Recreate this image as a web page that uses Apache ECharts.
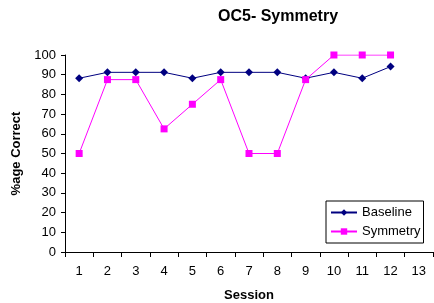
<!DOCTYPE html>
<html>
<head>
<meta charset="utf-8">
<script src="https://cdn.jsdelivr.net/npm/echarts@6/dist/echarts.min.js"></script>
<style>
  html, body { margin: 0; padding: 0; background: #fff; }
  #chart { width: 434px; height: 303px; }
</style>
</head>
<body>
<div id="chart"></div>
<script>
// data
const sessions = ['1', '2', '3', '4', '5', '6', '7', '8', '9', '10', '11', '12', '13'];
const baseline = [88.2, 91.2, 91.2, 91.2, 88.2, 91.2, 91.2, 91.2, 88.2, 91.2, 88.2, 94.1];
const symmetry = [50, 87.5, 87.5, 62.5, 75, 87.5, 50, 50, 87.5, 100, 100, 100];

const font = 'Liberation Sans, Arial, sans-serif';

const chart = echarts.init(document.getElementById('chart'));
chart.setOption({
  animation: false,
  backgroundColor: '#fff',
  title: {
    text: 'OC5- Symmetry',
    left: 273,
    top: 4,
    textAlign: 'center',
    textStyle: { fontFamily: font, fontSize: 16, fontWeight: 'bold', color: '#000' }
  },
  legend: {
    orient: 'vertical',
    left: 326,
    top: 201,
    padding: [5, 3, 5, 4],
    itemGap: 6,
    itemWidth: 26,
    itemHeight: 8,
    borderColor: '#000',
    borderWidth: 1,
    textStyle: { fontFamily: font, fontSize: 13, color: '#000' },
    data: ['Baseline', 'Symmetry']
  },
  grid: { left: 65, right: 1, top: 55, bottom: 51, containLabel: false, outerBoundsMode: 'none' },
  xAxis: {
    type: 'category',
    data: sessions,
    boundaryGap: true,
    name: 'Session',
    nameLocation: 'middle',
    nameGap: 37,
    nameTextStyle: { fontFamily: font, fontSize: 13, fontWeight: 'bold', color: '#000' },
    axisLine: { lineStyle: { color: '#000', width: 1 } },
    axisTick: { show: true, inside: false, length: 5, alignWithLabel: false, lineStyle: { color: '#000' } },
    axisLabel: { fontFamily: font, fontSize: 13, color: '#000', margin: 13, interval: 0 },
    splitLine: { show: false }
  },
  yAxis: {
    type: 'value',
    min: 0,
    max: 100,
    interval: 10,
    name: '%age Correct',
    nameLocation: 'middle',
    nameGap: 38,
    nameTextStyle: { fontFamily: font, fontSize: 13, fontWeight: 'bold', color: '#000' },
    axisLine: { show: true, lineStyle: { color: '#000', width: 1 } },
    axisTick: { show: true, inside: false, length: 4, lineStyle: { color: '#000' } },
    axisLabel: { fontFamily: font, fontSize: 13, color: '#000', margin: 9 },
    splitLine: { show: false }
  },
  series: [
    {
      name: 'Baseline',
      type: 'line',
      data: baseline,
      symbol: 'diamond',
      symbolSize: 8,
      color: '#000080',
      lineStyle: { color: '#000080', width: 1 },
      itemStyle: { color: '#000080' }
    },
    {
      name: 'Symmetry',
      type: 'line',
      data: symmetry,
      symbol: 'rect',
      symbolSize: 7,
      color: '#FF00FF',
      lineStyle: { color: '#FF00FF', width: 1 },
      itemStyle: { color: '#FF00FF' }
    }
  ]
});
</script>
</body>
</html>
